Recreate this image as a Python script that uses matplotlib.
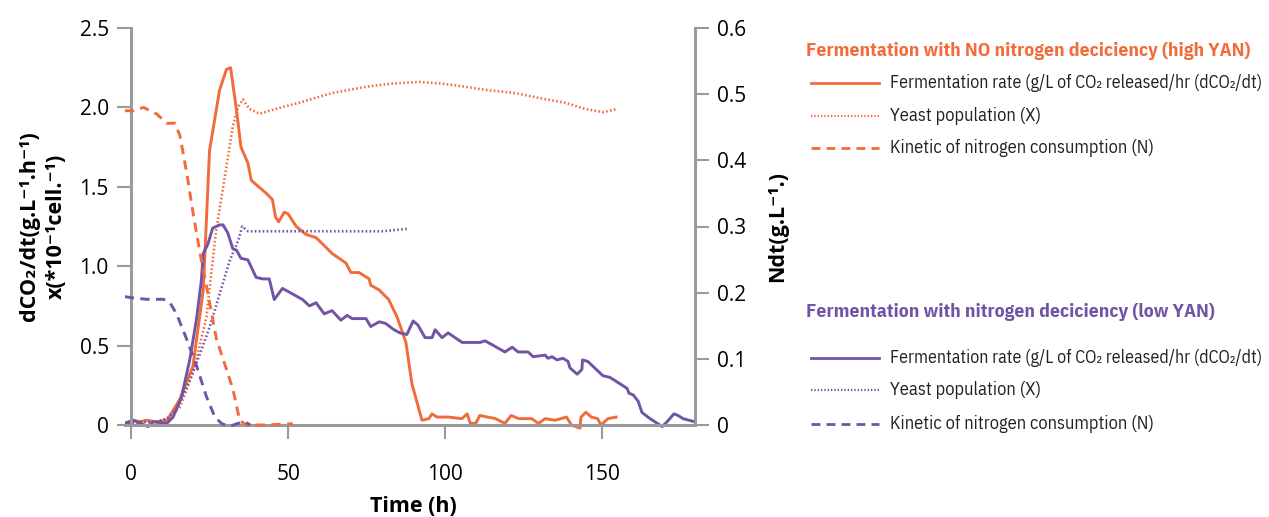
import matplotlib
matplotlib.use("Agg")
import matplotlib.pyplot as plt
from matplotlib.lines import Line2D

ORANGE = "#F26B3A"
PURPLE = "#7254A6"
SPINE = "#9a9a9a"
TXT = ["IBM Plex Sans Condensed", "Liberation Sans", "DejaVu Sans"]
LAB = ["Open Sans", "DejaVu Sans"]

# ---- high YAN (no nitrogen deficiency) ----
hi_rate_t = [-2, 0.7, 3, 5, 8, 11.5, 15.5, 19.7, 23, 25, 28.2, 30.4, 31.7, 33.6, 35, 37.2, 38.3,
             43, 45, 46, 47, 48.8, 50, 52.6, 55.7, 58.9, 62, 64, 68.4, 70, 72.6, 75.8, 76.3, 79,
             82, 84.7, 87.5, 89.4, 92.6, 94.8, 95.8, 97.4, 101, 105.3, 107, 108, 109.7, 111, 116,
             119, 121, 123.4, 127.5, 129.7, 131.8, 135, 138.6, 140.2, 142.9, 143.2, 144.8, 146.5,
             148.5, 149.6, 151.8, 154.4]
hi_rate = [0.01, 0.03, 0.02, 0.03, 0.02, 0.03, 0.16, 0.37, 0.85, 1.73, 2.11, 2.24, 2.25, 1.98,
           1.75, 1.65, 1.54, 1.46, 1.42, 1.31, 1.28, 1.34, 1.33, 1.25, 1.20, 1.18, 1.12, 1.08,
           1.02, 0.96, 0.96, 0.92, 0.88, 0.85, 0.79, 0.68, 0.52, 0.26, 0.03, 0.04, 0.07, 0.05,
           0.05, 0.04, 0.07, 0.01, 0.01, 0.06, 0.04, 0.01, 0.06, 0.04, 0.04, 0.01, 0.04, 0.03,
           0.05, 0.0, -0.02, 0.05, 0.08, 0.05, 0.04, 0.0, 0.04, 0.05]

hi_pop_t = [-2, 3, 8, 11.5, 15.5, 19.8, 24, 27, 30.4, 32.4, 34, 35.6, 37.7, 41, 46, 53.6, 64,
            74.8, 83, 91.6, 99, 106.5, 112.9, 122.4, 129.7, 138, 144.6, 150.3, 154.7]
hi_pop = [0.0, 0.02, 0.02, 0.04, 0.11, 0.33, 0.68, 1.21, 1.63, 1.88, 2.0, 2.05, 1.99, 1.96, 1.99,
          2.03, 2.09, 2.13, 2.15, 2.16, 2.15, 2.13, 2.11, 2.09, 2.06, 2.03, 1.99, 1.97, 1.99]

hi_n_t = [-2, 0.7, 4, 8.2, 11.4, 14, 15.6, 17.8, 19.8, 22, 23.5, 25, 27.2, 30.4, 32.5, 34.6,
          36.7, 43, 51.5]
hi_n = [0.475, 0.475, 0.48, 0.47, 0.456, 0.456, 0.437, 0.379, 0.319, 0.259, 0.223, 0.185,
        0.130, 0.084, 0.053, 0.007, 0.0, 0.0, 0.002]

# ---- low YAN (nitrogen deficiency) ----
lo_rate_t = [-2, 0.7, 5.4, 7, 11.4, 13.4, 16, 18.7, 20.8, 22.4, 23, 24.5, 26, 28.2, 29.3, 30.8,
             32.4, 33.6, 35, 37.2, 39.8, 41.9, 44, 45.6, 48.2, 51, 54.6, 56.8, 58.9, 61.5, 64,
             66.8, 68.8, 70.4, 74.8, 76.3, 79, 81, 83.7, 85.6, 87.8, 89.8, 91.3, 93.6, 95.8,
             96.8, 99, 100.9, 105.4, 111.1, 112.7, 119, 121.3, 123.2, 126.4, 128, 131.8, 132.7,
             134, 135.6, 137.5, 139.1, 139.7, 142, 143.5, 143.7, 145.4, 150.2, 152.4, 155.6,
             157.9, 158.5, 159.8, 161.4, 162.6, 164.5, 169, 170.6, 172.8, 174.1, 175.7, 179.5]
lo_rate = [0.01, 0.03, -0.01, 0.02, 0.01, 0.05, 0.17, 0.41, 0.66, 0.91, 1.08, 1.14, 1.24, 1.26,
           1.26, 1.21, 1.11, 1.10, 1.05, 1.04, 0.93, 0.92, 0.92, 0.79, 0.86, 0.83, 0.79, 0.75,
           0.77, 0.70, 0.72, 0.66, 0.69, 0.67, 0.67, 0.62, 0.65, 0.64, 0.60, 0.58, 0.57, 0.655,
           0.63, 0.55, 0.55, 0.60, 0.55, 0.58, 0.52, 0.52, 0.53, 0.46, 0.49, 0.46, 0.46, 0.43,
           0.44, 0.42, 0.43, 0.41, 0.42, 0.40, 0.36, 0.32, 0.35, 0.41, 0.40, 0.31, 0.30, 0.26,
           0.23, 0.20, 0.19, 0.15, 0.08, 0.05, -0.01, 0.02, 0.07, 0.06, 0.04, 0.02]

lo_pop_t = [-2, 3, 8, 11.5, 14.5, 17.8, 22, 25.1, 28.3, 31.5, 34.1, 35.4, 37.3, 43, 64, 80, 87.8]
lo_pop = [0.0, 0.02, 0.02, 0.04, 0.10, 0.24, 0.45, 0.62, 0.83, 1.04, 1.16, 1.25, 1.22, 1.22,
          1.22, 1.22, 1.235]

lo_n_t = [-2, 0.7, 5, 10.3, 12.4, 14.5, 17.7, 20.9, 24, 26.7, 28.9, 31.5, 33.7, 36.3, 37.9]
lo_n = [0.194, 0.192, 0.19, 0.19, 0.185, 0.168, 0.13, 0.089, 0.043, 0.012, 0.002, -0.002,
        0.002, 0.005, 0.0]

DOT = (0, (0.6, 0.9))
DASH = (0, (3.2, 2.2))

W, H = 1269, 517
fig = plt.figure(figsize=(W / 100, H / 100), dpi=100)
pad = 0.05 * 397 / 2.5          # pixels below y=0 kept inside the axes
ax = fig.add_axes([124.7 / W, (H - 425 - pad) / H, (695 - 124.7) / W, (397 + pad) / H])
ax2 = ax.twinx()

ax.plot(hi_rate_t, hi_rate, color=ORANGE, lw=2.1)
ax.plot(hi_pop_t, hi_pop, color=ORANGE, lw=1.9, ls=DOT)
ax2.plot(hi_n_t, hi_n, color=ORANGE, lw=2.1, ls=DASH)
ax.plot(lo_rate_t, lo_rate, color=PURPLE, lw=2.1)
ax.plot(lo_pop_t, lo_pop, color=PURPLE, lw=1.9, ls=DOT)
ax2.plot(lo_n_t, lo_n, color=PURPLE, lw=2.1, ls=DASH)

ax.set_xlim(-2, 179.5)
ax.set_ylim(-0.05, 2.5)
ax2.set_ylim(-0.012, 0.6)

for a in (ax, ax2):
    a.patch.set_visible(False)
    a.spines["top"].set_visible(False)
    for s in a.spines.values():
        s.set_color(SPINE)
        s.set_linewidth(2.2)
ax.spines["right"].set_visible(False)
ax2.spines["left"].set_visible(False)
ax2.spines["bottom"].set_visible(False)
ax.spines["left"].set_position(("data", 0))
ax.spines["left"].set_bounds(0, 2.5)
ax.spines["bottom"].set_position(("data", 0))
ax2.spines["right"].set_bounds(0, 0.6)

ax.set_xticks([0, 50, 100, 150])
ax.set_yticks([0, 0.5, 1.0, 1.5, 2.0, 2.5])
ax.set_yticklabels(["0", "0.5", "1.0", "1.5", "2.0", "2.5"])
ax2.set_yticks([0, 0.1, 0.2, 0.3, 0.4, 0.5, 0.6])
ax2.set_yticklabels(["0", "0.1", "0.2", "0.3", "0.4", "0.5", "0.6"])
ax.tick_params(axis="both", length=10, width=1.5, color=SPINE, labelsize=15, pad=6)
ax.tick_params(axis="x", pad=18)
ax2.tick_params(axis="y", length=10, width=1.5, color=SPINE, labelsize=15, pad=6)
for lab in ax.get_xticklabels() + ax.get_yticklabels() + ax2.get_yticklabels():
    lab.set_family(LAB)

fig.text(30 / W, 1 - 226 / H, "dCO₂/dt(g.L⁻¹.h⁻¹)", rotation=90, ha="center", va="center",
         fontsize=15.5, fontweight="bold", family=LAB)
fig.text(56 / W, 1 - 226 / H, "x(*10⁻¹cell.⁻¹)", rotation=90, ha="center", va="center",
         fontsize=15.5, fontweight="bold", family=LAB)
fig.text(778 / W, 1 - 227 / H, "Ndt(g.L⁻¹.)", rotation=90, ha="center", va="center",
         fontsize=15.5, fontweight="bold", family=LAB)
fig.text(413 / W, 1 - 506 / H, "Time (h)", ha="center", va="center",
         fontsize=15.5, fontweight="bold", family=LAB)

# legend blocks drawn on the figure
rows = ["Fermentation rate (g/L of CO₂ released/hr (dCO₂/dt)",
        "Yeast population (X)",
        "Kinetic of nitrogen consumption (N)"]
row_sizes = [12.9, 13.2, 13.2]
styles = [("-", 2.0), (DOT, 1.6), (DASH, 2.0)]
blocks = [(ORANGE, "Fermentation with NO nitrogen deciciency (high YAN)", 51, [83, 116, 148]),
          (PURPLE, "Fermentation with nitrogen deciciency (low YAN)", 312, [358, 390, 424])]
for col, title, ty, ys in blocks:
    fig.text(806 / W, 1 - ty / H, title, color=col, fontsize=14, fontweight="bold",
             va="center", family=TXT)
    for (ls, lw), y, txt, fs in zip(styles, ys, rows, row_sizes):
        fig.add_artist(Line2D([811 / W, 879 / W], [1 - y / H] * 2, color=col, ls=ls, lw=lw,
                              transform=fig.transFigure))
        fig.text(890 / W, 1 - y / H, txt, fontsize=fs, va="center", family=TXT,
                 color="#222222")

fig.savefig("out.png", dpi=100)
